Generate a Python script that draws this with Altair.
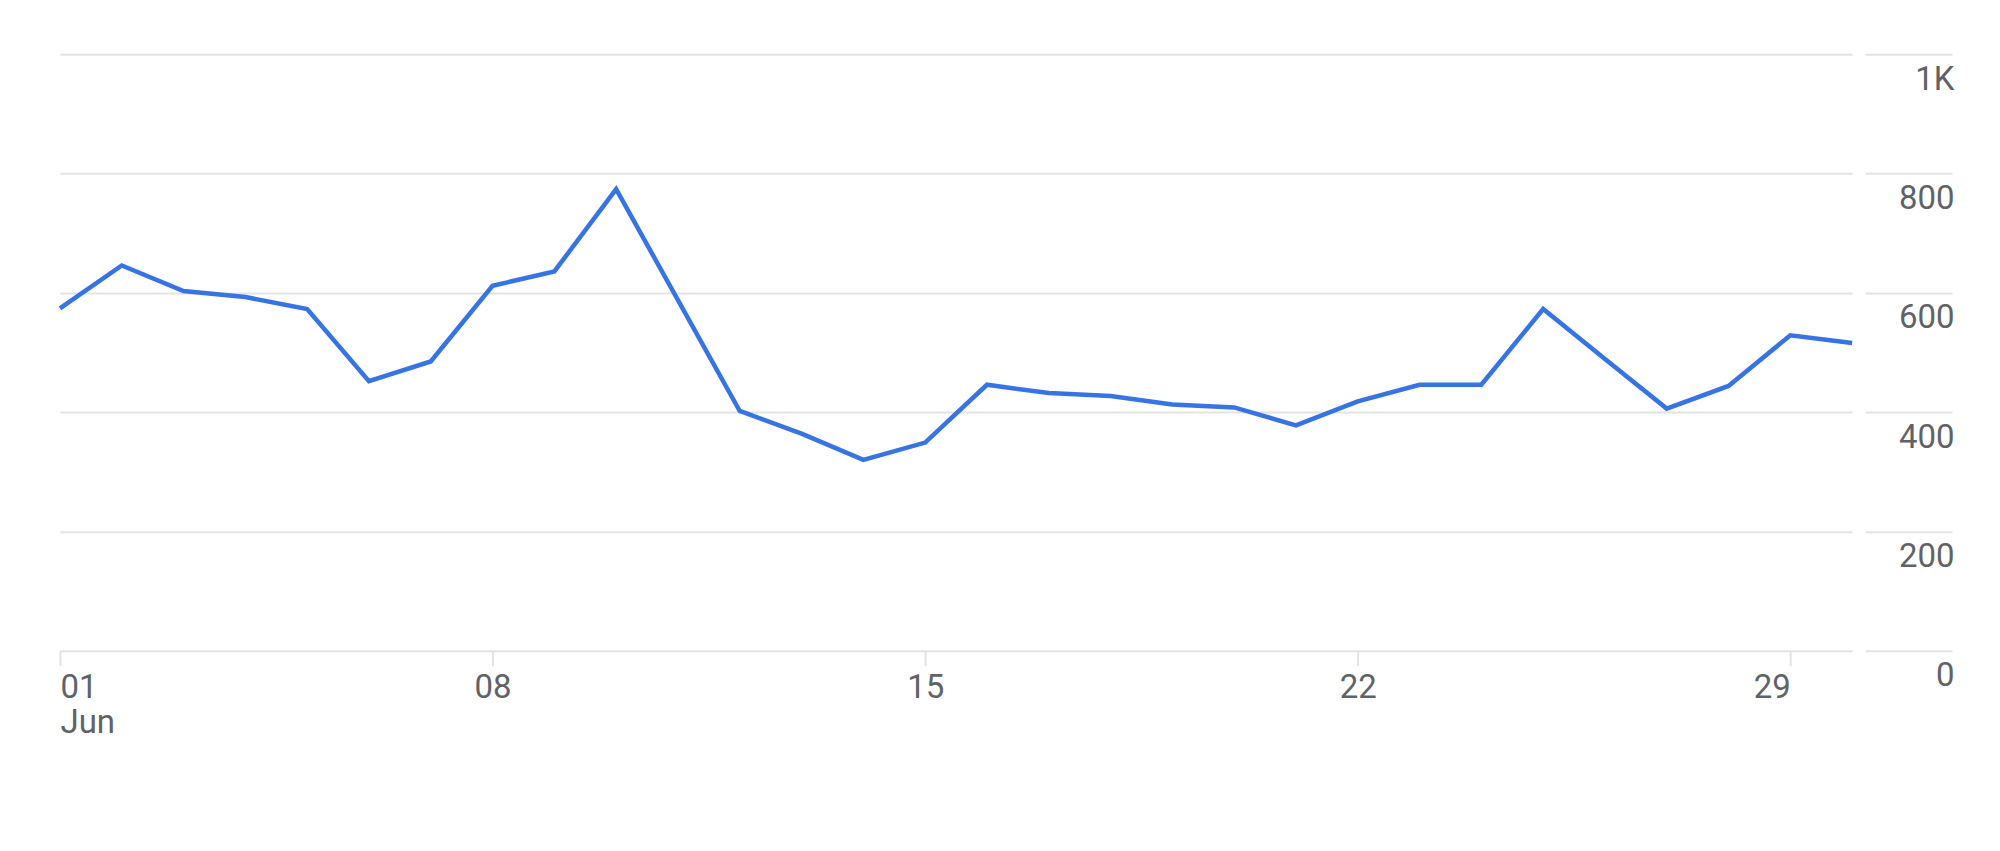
import altair as alt
import pandas as pd

days = list(range(1, 31))
visits = [574, 646, 603, 593, 573, 452, 485, 612, 636, 774,
          588, 402, 364, 320, 349, 446, 432, 427, 413, 408,
          378, 418, 446, 446, 573, 489, 406, 444, 529, 516]
x_tick_days = [1, 8, 15, 22, 29]
y_ticks = [0, 200, 400, 600, 800, 1000]

df = pd.DataFrame({
    "date": [f"2024-06-{d:02d}" for d in days],
    "value": visits,
})

GRID = "#e3e3e3"
TEXT = "#5f6368"
FONT = "Roboto"

x_axis = alt.Axis(
    values=[alt.DateTime(year=2024, month=6, date=d, utc=True) for d in x_tick_days],
    labelExpr="utcdate(datum.value) == 1 ? [utcFormat(datum.value, '%d'), 'Jun'] : utcFormat(datum.value, '%d')",
    grid=False,
    domain=False,
    ticks=True,
    tickSize=15,
    tickWidth=2,
    tickColor=GRID,
    labelFont=FONT,
    labelFontSize=33,
    labelColor=TEXT,
    labelPadding=6,
    labelBaseline="top",
    labelLineHeight=35,
    labelFlush=70,
    labelBound=False,
    labelOverlap=False,
    title=None,
)

y_axis = alt.Axis(
    orient="right",
    values=y_ticks,
    labelExpr="datum.value == 1000 ? '1K' : format(datum.value, 'd')",
    grid=True,
    gridColor=GRID,
    gridWidth=2,
    domain=False,
    ticks=True,
    tickSize=87,
    tickWidth=2,
    tickColor=GRID,
    offset=13,
    labelFont=FONT,
    labelFontSize=33,
    labelColor=TEXT,
    labelAlign="right",
    labelBaseline="alphabetic",
    labelPadding=2,
    labelOffset=35,
    labelBound=False,
    labelOverlap=False,
    title=None,
)

chart = alt.Chart(df).mark_line(
    color="#3673e4", strokeWidth=4.5, strokeJoin="miter", strokeCap="butt"
).encode(
    x=alt.X("date:T", scale=alt.Scale(type="utc", nice=False), axis=x_axis),
    y=alt.Y("value:Q", scale=alt.Scale(domain=[0, 1000], nice=False, zero=True), axis=y_axis),
).properties(
    width=1794,
    height=597,
    autosize=alt.AutoSizeParams(type="none"),
    padding={"left": 52, "top": 46, "right": 140, "bottom": 120},
).configure(
    background="white"
).configure_view(
    strokeWidth=0,
    stroke="transparent",
)

chart.save("out.html", embed_options={"renderer": "svg", "actions": False})
